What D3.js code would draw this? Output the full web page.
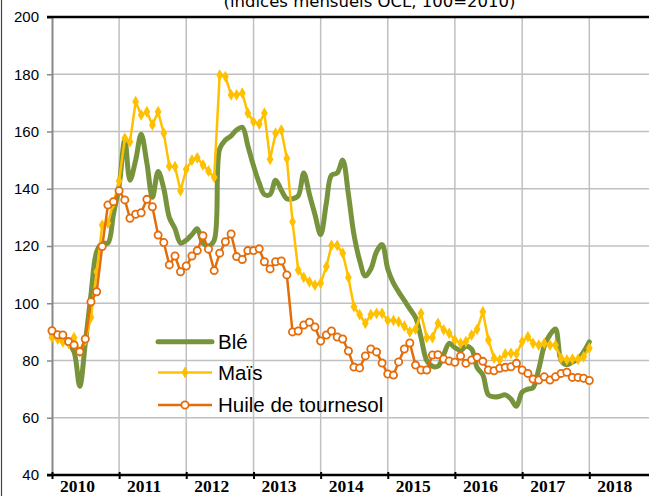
<!DOCTYPE html>
<html><head><meta charset="utf-8">
<script src="https://cdn.jsdelivr.net/npm/d3@7"></script>
<style>body{margin:0;background:#fff;} svg{display:block;}</style>
</head><body><svg id="c" width="649" height="497"></svg>
<script>
const title = "(indices mensuels OCL, 100=2010)";
const firstMonth = [2010, 0];
const lastMonth = [2018, 0];
const yearLabels = ["2010","2011","2012","2013","2014","2015","2016","2017","2018"];
const yTicks = [40,60,80,100,120,140,160,180,200];
const seriesNames = ["Blé","Maïs","Huile de tournesol"];

const ble = [89,88,87,86,83,71,86,103,118,121,121,131,
  141,157,143,150,159,149,137,146,140,130,126,121,
  122,124,126,121,120,122,154,157,158.5,160.5,161.5,155,
  148,142,138,138,143,139.5,136.5,136.5,137.5,145.5,138,131,
  124,135,144.8,145.5,150,138,124,115,109.5,112,118,120.5,
  112,107,104,101,98,95,88,80,78,78,82,86,
  84.5,83.5,85,84,77.5,75,68,67.3,67.5,68,66.5,64,
  69,70,70.5,77,85,89,91,80,78.5,79.5,80.5,83,
  86.5];
const mais = [88,87.5,86.5,86,88,83,87,95,111,127.3,128,135,
  142.7,157.6,156.4,170.4,165.8,166.9,162.3,166.9,159.4,147.9,147.7,139.3,
  146.8,150,150.8,148.3,146.2,144,179.7,179.2,172.8,172.8,173.4,166.4,
  163.4,162.6,166.4,150.3,159.4,160.5,150.6,128.5,111.6,109,107.5,106.3,
  107,112.8,120.2,120.2,117.5,109,98.8,96,93,96,96.5,96.5,
  94,94,93.5,92,90,91,96.5,88,88,93,90.7,89.5,
  87.2,86,86.6,88.9,90.9,97,87.2,80.8,80.2,82.3,82.5,82.3,
  86.6,88.3,86,85.4,86,85.4,85.4,80.8,80.2,80.5,80.4,81.3,
  84.3];
const huile = [90.4,89,88.9,86.6,85.4,83.1,87.5,100.5,104,119.8,134.3,135.5,
  139.3,136.1,129.7,131.1,131.6,136.3,133.7,123.8,121.2,113.4,116.5,111,
  113,116.5,118.4,123.6,118.9,111.4,117.5,121.5,124.2,116.3,115.3,118.4,
  118.4,119,114.5,112,114.5,114.8,109.9,90,90.3,92.4,93.4,91.7,
  86.8,88.9,90.3,88.2,87.5,83.3,77.7,77.4,81.6,84,83,79.1,
  75.3,74.9,79.5,84,86.1,78.4,76.7,76.7,81.9,82,80.5,79.8,
  79.4,81.6,79,80.2,81.1,79.7,76.7,76.4,77.3,77.6,77.8,79,
  76.7,75.5,73.5,73.2,74.3,73.2,74.3,75.5,75.9,74.1,74.1,73.8,
  73];

const colors = {ble:"#77933C", mais:"#FFC000", huile:"#E46C0A"};

const svg = d3.select("#c");
const W = 649, H = 497;
const dates = d3.timeMonth.range(new Date(firstMonth[0], firstMonth[1], 1), new Date(lastMonth[0], lastMonth[1] + 1, 1));
const yearDates = yearLabels.map(y => new Date(+y, 0, 1));

const x = d3.scaleTime().domain([yearDates[0], yearDates[yearDates.length-1]]).range([52, 589.3]);
const y = d3.scaleLinear().domain([40, 200]).range([475, 17]);

// frame
svg.append("line").attr("x1",1.5).attr("x2",1.5).attr("y1",0).attr("y2",496).attr("stroke","#444").attr("stroke-width",1.2);

// horizontal gridlines
svg.append("g").selectAll("line").data(yTicks.filter(v => v > 40 && v < 200)).join("line")
  .attr("x1", 52).attr("x2", W).attr("y1", d => y(d)).attr("y2", d => y(d))
  .attr("stroke", "#C0C0C0").attr("stroke-width", 1.5);
// vertical gridlines
svg.append("g").selectAll("line").data(yearDates.slice(1)).join("line")
  .attr("x1", d => x(d)).attr("x2", d => x(d)).attr("y1", y(200)).attr("y2", y(40))
  .attr("stroke", "#C0C0C0").attr("stroke-width", 1.5);

// y axis
const yAxis = svg.append("g").attr("transform", "translate(52,0)")
  .call(d3.axisLeft(y).tickValues(yTicks).tickSize(5).tickPadding(8));
yAxis.select(".domain").attr("stroke", "#888").attr("stroke-width", 2);
yAxis.selectAll(".tick line").attr("stroke", "#888").attr("stroke-width", 1.5);
yAxis.selectAll(".tick text").attr("font-family", "Liberation Sans, Arial, sans-serif").attr("font-size", 15).attr("fill", "#000");

// top and bottom black lines
svg.append("line").attr("x1", 47).attr("x2", W).attr("y1", y(200)).attr("y2", y(200)).attr("stroke", "#000").attr("stroke-width", 2.5);
svg.append("line").attr("x1", 47).attr("x2", W).attr("y1", y(40)).attr("y2", y(40)).attr("stroke", "#000").attr("stroke-width", 2.5);

// x axis ticks + labels
const xAxis = svg.append("g").attr("transform", `translate(0,${y(40)})`)
  .call(d3.axisBottom(x).tickValues(yearDates).tickSize(4).tickFormat((d, i) => yearLabels[i]));
xAxis.select(".domain").remove();
xAxis.selectAll(".tick line").attr("stroke", "#000").attr("stroke-width", 2).attr("y1", -3);
xAxis.selectAll(".tick text")
  .attr("font-family", "Liberation Serif, Times New Roman, serif").attr("font-weight", "bold")
  .attr("font-size", 17.5).attr("fill", "#000")
  .attr("text-anchor", "start").attr("x", 7.5).attr("y", 16.5).attr("dy", null);

// title
svg.append("text").attr("x", 369.5).attr("y", 7).attr("text-anchor", "middle")
  .attr("font-family", "DejaVu Sans, Verdana, sans-serif").attr("font-size", 16.5).attr("fill", "#000")
  .text(title);

const lineGen = d3.line().x((d, i) => x(dates[i])).y(d => y(d));
const diamond = d3.symbol().type(d3.symbolDiamond).size(40);

// Blé
svg.append("path").datum(ble).attr("d", lineGen.curve(d3.curveCatmullRom.alpha(0.5)))
  .attr("fill", "none").attr("stroke", colors.ble).attr("stroke-width", 5).attr("stroke-linejoin", "round").attr("stroke-linecap", "round");

// Maïs
svg.append("path").datum(mais).attr("d", d3.line().x((d, i) => x(dates[i])).y(d => y(d)))
  .attr("fill", "none").attr("stroke", colors.mais).attr("stroke-width", 2.5).attr("stroke-linejoin", "round");
svg.append("g").selectAll("path").data(mais).join("path")
  .attr("transform", (d, i) => `translate(${x(dates[i])},${y(d)})`)
  .attr("d", diamond).attr("fill", colors.mais);

// Huile
svg.append("path").datum(huile).attr("d", d3.line().x((d, i) => x(dates[i])).y(d => y(d)))
  .attr("fill", "none").attr("stroke", colors.huile).attr("stroke-width", 2.5).attr("stroke-linejoin", "round");
svg.append("g").selectAll("circle").data(huile).join("circle")
  .attr("cx", (d, i) => x(dates[i])).attr("cy", d => y(d)).attr("r", 3.6)
  .attr("fill", "#fff").attr("stroke", colors.huile).attr("stroke-width", 1.8);

// legend
const legY = [341.7, 372.5, 405];
const lg = svg.append("g");
const lx1 = 158, lx2 = 212, tx = 218;
lg.append("line").attr("x1", lx1).attr("x2", lx2).attr("y1", legY[0]).attr("y2", legY[0]).attr("stroke", colors.ble).attr("stroke-width", 5).attr("stroke-linecap", "round");
lg.append("line").attr("x1", lx1).attr("x2", lx2).attr("y1", legY[1]).attr("y2", legY[1]).attr("stroke", colors.mais).attr("stroke-width", 2.5);
lg.append("path").attr("transform", `translate(${(lx1+lx2)/2},${legY[1]})`).attr("d", diamond).attr("fill", colors.mais);
lg.append("line").attr("x1", lx1).attr("x2", lx2).attr("y1", legY[2]).attr("y2", legY[2]).attr("stroke", colors.huile).attr("stroke-width", 2.5);
lg.append("circle").attr("cx", (lx1+lx2)/2).attr("cy", legY[2]).attr("r", 3.6).attr("fill", "#fff").attr("stroke", colors.huile).attr("stroke-width", 1.8);
lg.selectAll("text").data(seriesNames).join("text")
  .attr("x", tx).attr("y", (d, i) => legY[i]).attr("dy", "0.36em")
  .attr("font-family", "Liberation Sans, Arial, sans-serif").attr("font-size", 20.5).attr("fill", "#000")
  .text(d => d);
</script></body></html>
